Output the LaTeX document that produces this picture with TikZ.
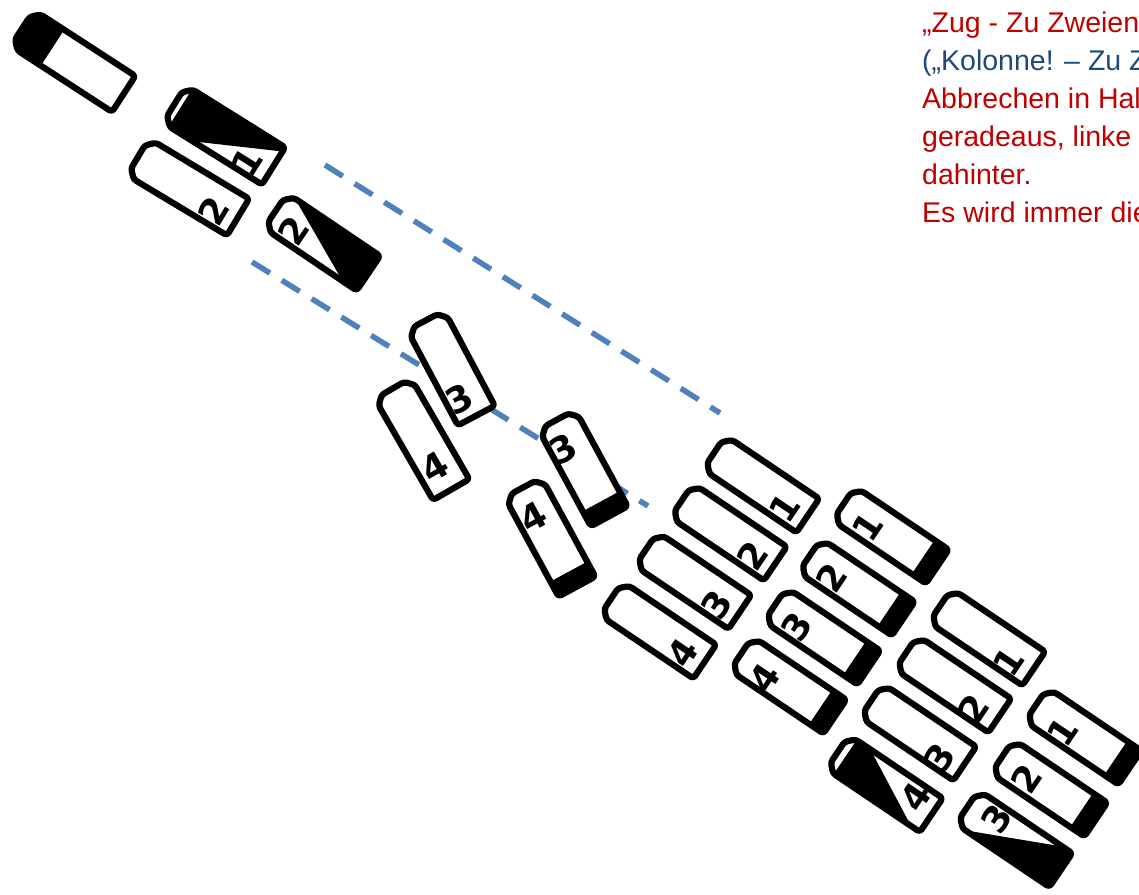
\documentclass[tikz,border=0pt]{standalone}
\usepackage{fontspec}
\setmainfont{Liberation Sans}
\newfontfamily\digfont{DejaVu Sans}
\definecolor{txtred}{RGB}{192,0,0}
\definecolor{txtblue}{RGB}{31,73,125}
\definecolor{dashblue}{RGB}{79,129,189}
\tikzset{
  blkline/.style={line width=6.2pt,line join=round},
  lbl/.style={inner sep=0pt,font=\digfont\bfseries\fontsize{36}{36}\selectfont},
  txt/.style={anchor=base west,inner sep=0pt,font=\fontsize{28.5}{38}\selectfont},
  dashline/.style={dashblue,line width=5.5pt,dash pattern=on 21pt off 14pt}
}
\def\blkpath{(-\blkA+8,\blkB) -- (\blkA,\blkB) -- (\blkA,-\blkB) -- (-\blkA+8,-\blkB) -- (-\blkA,-\blkB+8) -- (-\blkA,\blkB-8) -- cycle}
\def\fRear{\fill (\blkA-17,-\blkB-6) rectangle (\blkA+6,\blkB+6);}
\def\fFront{\fill (-\blkA-6,-\blkB-6) rectangle (-\blkA+36,\blkB+6);}
\def\fTriB{\fill (-\blkA+7,\blkB+6) -- (\blkA+6,\blkB+6) -- (\blkA+6,\blkB-2) -- (-\blkA+29,-\blkB-3) -- (-\blkA+7,-\blkB-6) -- cycle;}
\def\fTriD{\fill (-\blkA+3,\blkB+3) -- (\blkA+6,\blkB+6) -- (\blkA+6,-\blkB-6) -- (\blkA-11,-\blkB-3) -- cycle;}
\def\fTriF{\fill (-\blkA+9,\blkB+6) -- (-\blkA+20,\blkB+3) -- (\blkA-5,-\blkB-3) -- (-\blkA+9,-\blkB-6) -- cycle;}
\def\fTriG{\fill (-\blkA+5,-\blkB-3) -- (\blkA-14,\blkB-1) -- (\blkA-14,\blkB+6) -- (\blkA+6,\blkB+6) -- (\blkA+6,-\blkB-6) -- cycle;}
\newcommand\blk[9]{%
  \begin{scope}[shift={(#1,-#2)},rotate=#3]
    \pgfmathsetmacro\blkA{#4/2-3.1}%
    \pgfmathsetmacro\blkB{#5/2-3.1}%
    \fill[white,rounded corners=3pt] \blkpath;
    \begin{scope}
      \clip[rounded corners=3pt] \blkpath;
      #6
    \end{scope}
    \draw[blkline,rounded corners=3pt] \blkpath;
    \node[lbl,rotate=#3+90] at (#8,#9) {#7};
  \end{scope}}
\begin{document}
\begin{tikzpicture}[x=1pt,y=1pt]
\useasboundingbox (0,0) rectangle (1139,-894);
\clip (0,0) rectangle (1139,-894);
\fill[white] (0,0) rectangle (1139,-894);

% dashed guide lines
\coordinate (d1) at (325,-165);
\coordinate (d2) at (720,-413);
\coordinate (d3) at (252,-262);
\coordinate (d4) at (648,-506);
\draw[dashline] (d1) -- (d2);
\draw[dashline] (d3) -- (d4);

% top-left group
\blk{73}{61}{-33}{127}{49}{\fFront}{}{0}{0}
\blk{224}{135}{-32}{123}{50}{\fTriB}{1}{34}{-11}
\blk{188}{187}{-31}{123}{49}{}{2}{34}{-7}
\blk{322}{242}{-34}{118}{48}{\fTriD}{2}{-30}{-6}

% middle group
\blk{451}{368}{-62}{114}{48}{}{3}{32}{-7}
\blk{422}{439}{-60}{123}{48}{}{4}{31}{-3}
\blk{583}{468}{-61.5}{116}{48}{\fRear}{3}{-26}{-8}
\blk{550}{537}{-61.5}{119}{48}{\fRear}{4}{-26}{-5}

% grid: left column
\blk{761}{484}{-34}{119}{47}{}{1}{33}{-7}
\blk{728.5}{532}{-34}{119}{47}{}{2}{33}{-6}
\blk{693}{580.5}{-34}{119}{47}{}{3}{33}{-7}
\blk{658}{630}{-34}{119}{47}{}{4}{33}{-5}
% middle column
\blk{890.5}{535}{-34}{119}{47}{\fRear}{1}{-23}{-6}
\blk{856.5}{587}{-34}{119}{47}{\fRear}{2}{-26}{-6}
\blk{822}{636}{-34}{119}{47}{\fRear}{3}{-26}{-6}
\blk{788}{685}{-34}{119}{47}{\fRear}{4}{-24}{-7}
% right column
\blk{987}{637}{-34}{119}{47}{}{1}{32}{-8}
\blk{953}{684}{-34}{119}{47}{}{2}{31}{-9}
\blk{918}{732}{-34}{119}{47}{}{3}{32}{-9}
\blk{884.5}{783.5}{-34}{119}{47}{\fTriF}{4}{33}{6}
% far right column
\blk{1083}{736}{-34}{119}{47}{\fRear}{1}{-19}{-8}
\blk{1049}{788}{-34}{119}{47}{\fRear}{2}{-24}{-5}
\blk{1014}{838.5}{-34}{119}{47}{\fTriG}{3}{-26}{6.6}

% text
\node[txt,text=txtred]  (t1) at (922,-32)  {„Zug - Zu Zweien};
\node[txt,text=txtblue] (t2) at (922,-70)  {(„Kolonne! – Zu Z};
\node[txt,text=txtred]  (t3) at (922,-108) {Abbrechen in Hal};
\node[txt,text=txtred]  (t4) at (922,-146) {geradeaus, linke};
\node[txt,text=txtred]  (t5) at (922,-184) {dahinter.};
\node[txt,text=txtred]  (t6) at (922,-222) {Es wird immer die};
\end{tikzpicture}
\end{document}
